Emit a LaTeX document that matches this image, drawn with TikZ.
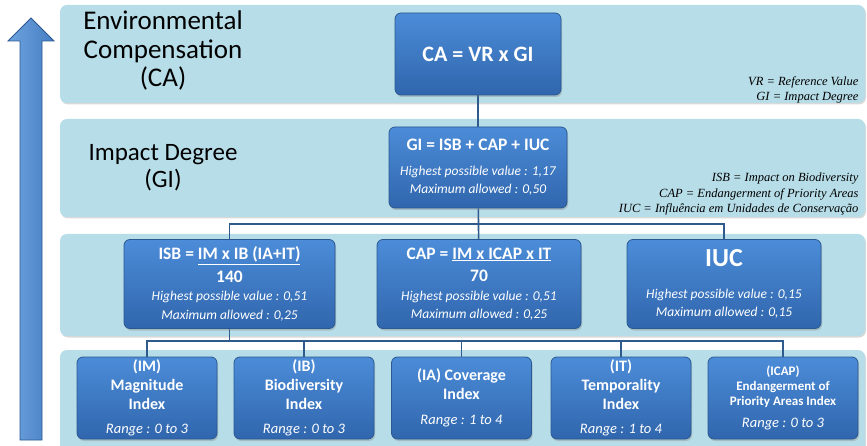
\documentclass[tikz,border=0pt]{standalone}
\usepackage{fontspec}
\setmainfont{Carlito}
\newfontfamily\notefont{Liberation Serif}
\usetikzlibrary{shadows}

\definecolor{panelblue}{HTML}{B7DDE8}
\definecolor{boxtop}{HTML}{4C8CD8}
\definecolor{boxbottom}{HTML}{3066AD}
\definecolor{boxline}{HTML}{2B5890}
\definecolor{linkblue}{HTML}{2F5A8C}

\newcommand{\fs}[2]{\fontsize{#1}{#2}\selectfont}

\pgfdeclarelayer{panels}
\pgfdeclarelayer{links}
\pgfsetlayers{panels,links,main}

\begin{document}
\begin{tikzpicture}[x=1pt,y=-1pt,
        panel/.style={fill=panelblue,rounded corners=7pt,
            drop shadow={opacity=0.3,shadow xshift=1pt,shadow yshift=-1.5pt}},
        blockbox/.style={draw=boxline,thick,top color=boxtop,bottom color=boxbottom,
            rounded corners=6pt,text=white,align=center,inner sep=2pt,
            drop shadow={opacity=0.35,shadow xshift=1pt,shadow yshift=-2pt}},
        topbox/.style={blockbox,minimum height=82pt},
        midbox/.style={blockbox,minimum height=89pt,font=\itshape\fs{13.5}{18.5}},
        indexbox/.style={blockbox,minimum width=140pt,minimum height=82pt,font=\bfseries\fs{16}{19}},
        levellabel/.style={align=center},
        note/.style={align=right,anchor=east,font=\notefont\itshape\fs{12.5}{15.5}},
        link/.style={draw=linkblue,line width=1.6pt}]
    \useasboundingbox (0,0) rectangle (867,446);

    % levels
    \begin{pgfonlayer}{panels}
        \path[panel] (60,5) rectangle (865,103);
        \path[panel] (60,119) rectangle (865,217);
        \path[panel] (60,234) rectangle (865,336);
        \path[panel] (60,350) rectangle (865,452);
    \end{pgfonlayer}

    % upward arrow
    \draw[boxline,thick,left color=boxtop!80!white,right color=boxtop!90!black]
        (20,440) -- (20,41) -- (8,41) -- (31,18) -- (54,41) -- (42,41) -- (42,440) -- cycle;

    \node[levellabel,font=\fs{27}{28.5}] (lblCA) at (163,51) {Environmental\\Compensation\\(CA)};
    \node[levellabel,font=\fs{25}{27}] (lblGI) at (163,168) {Impact Degree\\(GI)};

    \node[note] (noteCA) at (862,90) {VR = Reference Value\\GI = Impact Degree};
    \node[note] (noteGI) at (862,194) {ISB = Impact on Biodiversity\\CAP = Endangerment of Priority Areas\\IUC = Influência em Unidades de Conservação};

    % boxes
    \node[topbox,minimum width=166pt,font=\bfseries\fs{22}{26}] (CA) at (478,54) {CA = VR x GI};
    \node[topbox,minimum width=178pt,minimum height=81pt,font=\itshape\fs{13.5}{18}] (GI) at (478,167.5)
        {{\upshape\bfseries\fs{17.5}{18}GI = ISB + CAP + IUC}\\[7pt]
         Highest possible value : 1,17\\Maximum allowed : 0,50};

    \node[midbox,minimum width=211pt] (ISB) at (229.5,284)
        {{\upshape\bfseries\fs{17.5}{18.5}ISB = \underline{IM x IB (IA+IT)}}\\[4pt]
         {\upshape\bfseries\fs{17.5}{18.5}140}\\
         Highest possible value : 0,51\\Maximum allowed : 0,25};
    \node[midbox,minimum width=204pt] (CAP) at (479,284)
        {{\upshape\bfseries\fs{17.5}{18.5}CAP = \underline{IM x ICAP x IT}}\\[4pt]
         {\upshape\bfseries\fs{17.5}{18.5}70}\\
         Highest possible value : 0,51\\Maximum allowed : 0,25};
    \node[midbox,minimum width=194pt] (IUC) at (724,284)
        {{\upshape\bfseries\fs{26}{18.5}IUC}\\[13pt]
         Highest possible value : 0,15\\Maximum allowed : 0,15};

    \node[indexbox] (IM) at (147,398)
        {(IM)\\Magnitude\\Index\\[5pt]{\mdseries\itshape\fs{14.5}{19}Range : 0 to 3}};
    \node[indexbox] (IB) at (304,398)
        {(IB)\\Biodiversity\\Index\\[5pt]{\mdseries\itshape\fs{14.5}{19}Range : 0 to 3}};
    \node[indexbox] (IA) at (461.5,398)
        {(IA) Coverage\\Index\\[6pt]{\mdseries\itshape\fs{14.5}{19}Range : 1 to 4}};
    \node[indexbox] (IT) at (621,398)
        {(IT)\\Temporality\\Index\\[5pt]{\mdseries\itshape\fs{14.5}{19}Range : 1 to 4}};
    \node[indexbox,minimum width=150pt,font=\bfseries\fs{13}{15}] (ICAP) at (783,398)
        {(ICAP)\\Endangerment of\\Priority Areas Index\\[7pt]{\mdseries\itshape\fs{14.5}{15}Range : 0 to 3}};

    % connectors
    \coordinate (barGI) at (0,224);
    \coordinate (barIdx) at (0,341);
    \begin{pgfonlayer}{links}
        \draw[link] (CA) -- (GI);
        \draw[link] (GI) -- (CAP);
        \draw[link] (GI.south |- barGI) -| (ISB);
        \draw[link] (GI.south |- barGI) -| (IUC);
        \draw[link] (ISB) -- (ISB.south |- barIdx) -| (IM);
        \draw[link] (ISB.south |- barIdx) -| (IB);
        \draw[link] (ISB.south |- barIdx) -- (CAP.south |- barIdx);
        \draw[link] (CAP.south |- barIdx) -| (IA);
        \draw[link] (CAP.south |- barIdx) -| (IT);
        \draw[link] (CAP.south |- barIdx) -| (ICAP);
    \end{pgfonlayer}
\end{tikzpicture}
\end{document}
